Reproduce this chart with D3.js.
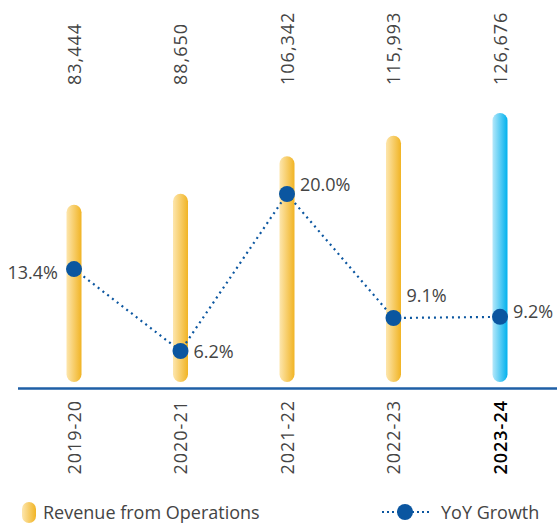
<!DOCTYPE html>
<html>
<head>
<meta charset="utf-8">
<script src="https://cdn.jsdelivr.net/npm/d3@7"></script>
<style>
  body { margin: 0; background: #fff; }
  text { font-family: "Open Sans", sans-serif; }
</style>
</head>
<body>
<div id="chart"></div>
<script>
const years = ["2019-20", "2020-21", "2021-22", "2022-23", "2023-24"];
const revenue = [83444, 88650, 106342, 115993, 126676];
const growth = [13.4, 6.2, 20.0, 9.1, 9.2];
const revenueLabels = ["83,444", "88,650", "106,342", "115,993", "126,676"];
const growthLabels = ["13.4%", "6.2%", "20.0%", "9.1%", "9.2%"];

const width = 557, height = 527;
const baseY = 382;
const fs = 18;

const svg = d3.select("#chart")
	.append("svg")
	.attr("width", width)
	.attr("height", height);

// gradients for the bars
const defs = svg.append("defs");
function gradient(id, c1, c2) {
	const g = defs.append("linearGradient").attr("id", id)
		.attr("x1", "0%").attr("x2", "100%");
	g.append("stop").attr("offset", "0%").attr("stop-color", c1);
	g.append("stop").attr("offset", "100%").attr("stop-color", c2);
}
gradient("yellow", "#fde6ad", "#f1b424");
gradient("blue", "#b5e8fa", "#00b1ee");

const x = d3.scalePoint()
	.domain(years)
	.range([74, 500]);

const y = d3.scaleLinear()
	.domain([0, 126676])
	.range([baseY, 113]);

const yg = d3.scaleLinear()
	.domain([6.2, 20.0])
	.range([351, 194]);

const barW = 15;

// bars (pill shaped)
svg.selectAll("rect.bar")
	.data(years)
	.enter()
	.append("rect")
	.attr("class", "bar")
	.attr("x", d => x(d) - barW / 2)
	.attr("y", (d, i) => y(revenue[i]))
	.attr("width", barW)
	.attr("height", (d, i) => baseY - y(revenue[i]))
	.attr("rx", barW / 2)
	.attr("ry", barW / 2)
	.attr("fill", (d, i) => i === years.length - 1 ? "url(#blue)" : "url(#yellow)");

// value labels on top
svg.selectAll("text.val")
	.data(years)
	.enter()
	.append("text")
	.attr("class", "val")
	.attr("transform", d => `translate(${x(d) + 6.5}, 85) rotate(-90)`)
	.attr("font-size", fs)
	.attr("letter-spacing", 1)
	.attr("fill", "#444")
	.text((d, i) => revenueLabels[i]);

// x axis line
svg.append("line")
	.attr("x1", 18).attr("x2", width)
	.attr("y1", 388.5).attr("y2", 388.5)
	.attr("stroke", "#1f5fa6")
	.attr("stroke-width", 2.5);

// category labels
svg.selectAll("text.cat")
	.data(years)
	.enter()
	.append("text")
	.attr("class", "cat")
	.attr("transform", d => `translate(${x(d) + 6.5}, 400) rotate(-90)`)
	.attr("text-anchor", "end")
	.attr("font-size", fs)
	.attr("letter-spacing", 1)
	.attr("font-weight", (d, i) => i === years.length - 1 ? 600 : 400)
	.attr("fill", (d, i) => i === years.length - 1 ? "#000" : "#444")
	.text(d => d);

// growth line
const line = d3.line()
	.x(d => x(d.year))
	.y(d => yg(d.g));
const pts = years.map((d, i) => ({ year: d, g: growth[i] }));

svg.append("path")
	.datum(pts)
	.attr("d", line)
	.attr("fill", "none")
	.attr("stroke", "#0b56a0")
	.attr("stroke-width", 2.2)
	.attr("stroke-dasharray", "2,4");

svg.selectAll("circle.pt")
	.data(pts)
	.enter()
	.append("circle")
	.attr("class", "pt")
	.attr("cx", d => x(d.year))
	.attr("cy", d => yg(d.g))
	.attr("r", 8)
	.attr("fill", "#0b56a0");

// growth labels
const labelPos = [
	{ dx: -16, dy: 10, anchor: "end" },
	{ dx: 13, dy: 7, anchor: "start" },
	{ dx: 13, dy: -3, anchor: "start" },
	{ dx: 13, dy: -16, anchor: "start" },
	{ dx: 13, dy: 1, anchor: "start" }
];
svg.selectAll("text.g")
	.data(pts)
	.enter()
	.append("text")
	.attr("class", "g")
	.attr("x", (d, i) => x(d.year) + labelPos[i].dx)
	.attr("y", (d, i) => yg(d.g) + labelPos[i].dy)
	.attr("text-anchor", (d, i) => labelPos[i].anchor)
	.attr("font-size", fs)
	.attr("fill", "#444")
	.text((d, i) => growthLabels[i]);

// legend
const legend = svg.append("g");
legend.append("rect")
	.attr("x", 22).attr("y", 502)
	.attr("width", 14).attr("height", 21)
	.attr("rx", 7).attr("ry", 7)
	.attr("fill", "url(#yellow)");
legend.append("text")
	.attr("x", 43).attr("y", 519)
	.attr("font-size", fs)
	.attr("fill", "#444")
	.text("Revenue from Operations");

legend.append("line")
	.attr("x1", 382).attr("x2", 430)
	.attr("y1", 512).attr("y2", 512)
	.attr("stroke", "#0b56a0")
	.attr("stroke-width", 2.2)
	.attr("stroke-dasharray", "2,3");
legend.append("circle")
	.attr("cx", 405).attr("cy", 512)
	.attr("r", 8)
	.attr("fill", "#0b56a0");
legend.append("text")
	.attr("x", 441).attr("y", 519)
	.attr("font-size", fs)
	.attr("fill", "#444")
	.text("YoY Growth");
</script>
</body>
</html>
